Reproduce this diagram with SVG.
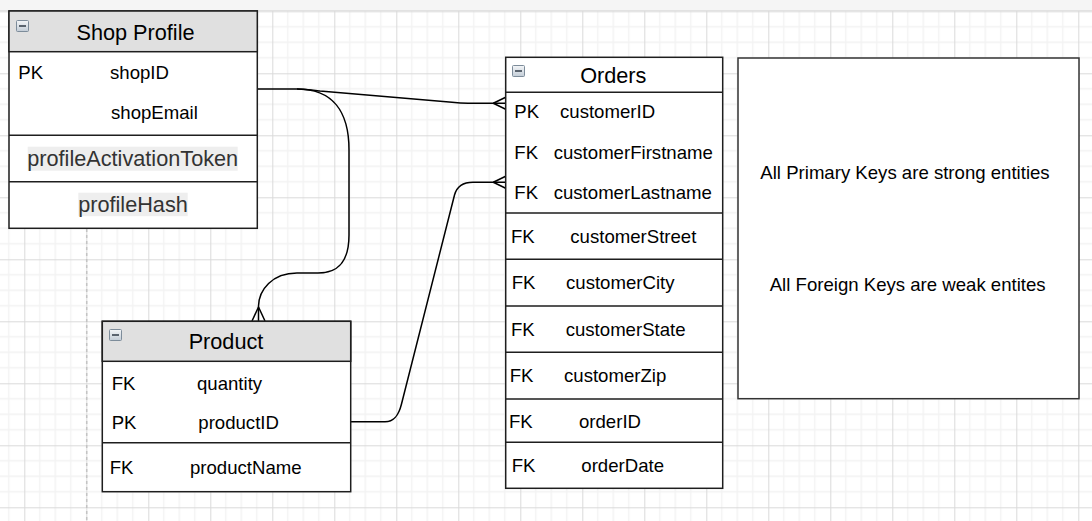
<svg xmlns="http://www.w3.org/2000/svg" width="1092" height="521" viewBox="0 0 1092 521">
<defs>
<pattern id="grid" patternUnits="userSpaceOnUse" x="24.3" y="11.3" width="62" height="62">
<path d="M15.5,0V62M31,0V62M46.5,0V62M0,15.5H62M0,31H62M0,46.5H62" stroke="#f2f2f2" stroke-width="1.3" fill="none"/>
<path d="M0.5,0V62M0,0.5H62" stroke="#dadada" stroke-width="1" fill="none"/>
</pattern>
<linearGradient id="btn" x1="0" y1="0" x2="0" y2="1">
<stop offset="0" stop-color="#f4f6f8"/>
<stop offset="1" stop-color="#c2ccd6"/>
</linearGradient>
<g id="collapse">
<rect x="0.5" y="0.5" width="12" height="11" rx="1" fill="url(#btn)" stroke="#7d8c9a" stroke-width="1"/>
<path d="M3,6H10" stroke="#3a4450" stroke-width="1.6"/>
</g>
</defs>
<style>
.box{fill:#fff;stroke:#1e1e1e;stroke-width:1.5}
.hdr{fill:#e0e0e0;stroke:#1e1e1e;stroke-width:1.5}
.div{stroke:#1e1e1e;stroke-width:1.5}
.t{font-family:"Liberation Sans",Arial,sans-serif;font-size:18.6px;fill:#000}
.title{font-family:"Liberation Sans",Arial,sans-serif;font-size:21.7px;fill:#000;text-anchor:middle}
.big{font-family:"Liberation Sans",Arial,sans-serif;font-size:21.7px;fill:#333;text-anchor:middle}
.c{text-anchor:middle}
.conn{fill:none;stroke:#000;stroke-width:1.5}
</style>
<rect x="0" y="0" width="1092" height="521" fill="#fff"/>
<rect x="0" y="10" width="1092" height="511" fill="url(#grid)"/>
<rect x="0" y="0" width="1092" height="10" fill="#f5f5f5"/>
<path d="M0,10.5H1092" stroke="#e2e2e2" stroke-width="1"/>
<path d="M86.7,229V521" stroke="#c4c4c4" stroke-width="1.5" stroke-dasharray="3,3"/>

<g id="connectors">
<path class="conn" d="M257,89 L297,89 C305,89 312,90 320,91 L452,102.3 C458,103 462,103.3 468,103.3 L505.7,103.3"/>
<path class="conn" d="M493.3,103.3 L505.7,97.3 M493.3,103.3 L505.7,109.3"/>
<path class="conn" d="M297,89 C333,89 349,112 349,150 L349,235 C349,262 338,273 318,273 L297,273 C272,273 259,290 258.5,306 L258.5,321"/>
<path class="conn" d="M258.5,307 L252,321 M258.5,307 L265,321"/>
<path class="conn" d="M351,421.7 L385,421.7 C395,421.7 399,414 401.5,404 L454.5,195 C457,186 463,182.3 473,182.3 L505.7,182.3"/>
<path class="conn" d="M493.3,182.3 L505.7,176.3 M493.3,182.3 L505.7,188.3"/>
</g>

<g id="shop-profile">
<rect class="box" x="9" y="11" width="248.3" height="217.3"/>
<rect class="hdr" x="9" y="11" width="248.3" height="40.7"/>
<use href="#collapse" x="16" y="20"/>
<text class="title" x="135.5" y="40">Shop Profile</text>
<path class="div" d="M9,135.3H257.3M9,181.7H257.3"/>
<text class="t" x="18.3" y="79">PK</text>
<text class="t" x="110" y="79">shopID</text>
<text class="t" x="111" y="119">shopEmail</text>
<rect x="27.7" y="146.7" width="210" height="24" fill="#eeeeee"/>
<text class="big" x="132.7" y="165.7">profileActivationToken</text>
<rect x="78.3" y="192.7" width="109.4" height="23.5" fill="#eeeeee"/>
<text class="big" x="133" y="212">profileHash</text>
</g>

<g id="product">
<rect class="box" x="102.3" y="321.3" width="248.4" height="170.4"/>
<rect class="hdr" x="102.3" y="321.3" width="248.4" height="40"/>
<use href="#collapse" x="109" y="329"/>
<text class="title" x="226" y="349.3">Product</text>
<path class="div" d="M102.3,442.7H350.7"/>
<text class="t" x="111.7" y="390">FK</text>
<text class="t" x="197" y="390">quantity</text>
<text class="t" x="111.7" y="428.7">PK</text>
<text class="t" x="198.3" y="428.7">productID</text>
<text class="t" x="109.7" y="474">FK</text>
<text class="t" x="190" y="474">productName</text>
</g>

<g id="orders">
<rect class="box" x="505.7" y="57.3" width="217" height="431"/>
<path class="div" d="M505.7,92.3H722.7M505.7,213H722.7M505.7,259.3H722.7M505.7,306H722.7M505.7,352.3H722.7M505.7,399H722.7M505.7,442.3H722.7"/>
<use href="#collapse" x="512" y="65"/>
<text class="title" x="613.3" y="83.3">Orders</text>
<text class="t" x="514.3" y="118.3">PK</text>
<text class="t" x="560" y="118.3">customerID</text>
<text class="t" x="514.3" y="159.3">FK</text>
<text class="t" x="553.7" y="159.3">customerFirstname</text>
<text class="t" x="514.3" y="199.3">FK</text>
<text class="t" x="553.7" y="199.3">customerLastname</text>
<text class="t" x="511" y="242.7">FK</text>
<text class="t" x="570.3" y="242.7">customerStreet</text>
<text class="t" x="511.7" y="289">FK</text>
<text class="t" x="566" y="289">customerCity</text>
<text class="t" x="511" y="335.7">FK</text>
<text class="t" x="565.7" y="335.7">customerState</text>
<text class="t" x="509.7" y="381.7">FK</text>
<text class="t" x="564" y="381.7">customerZip</text>
<text class="t" x="509" y="428.3">FK</text>
<text class="t" x="579" y="428.3">orderID</text>
<text class="t" x="511.7" y="471.7">FK</text>
<text class="t" x="581.3" y="471.7">orderDate</text>
</g>

<g id="notes">
<rect x="738" y="58" width="341" height="340.7" fill="#fff" stroke="#333" stroke-width="1.5"/>
<text class="t c" x="905" y="179.3">All Primary Keys are strong entities</text>
<text class="t c" x="907.7" y="290.7">All Foreign Keys are weak entites</text>
</g>
</svg>
